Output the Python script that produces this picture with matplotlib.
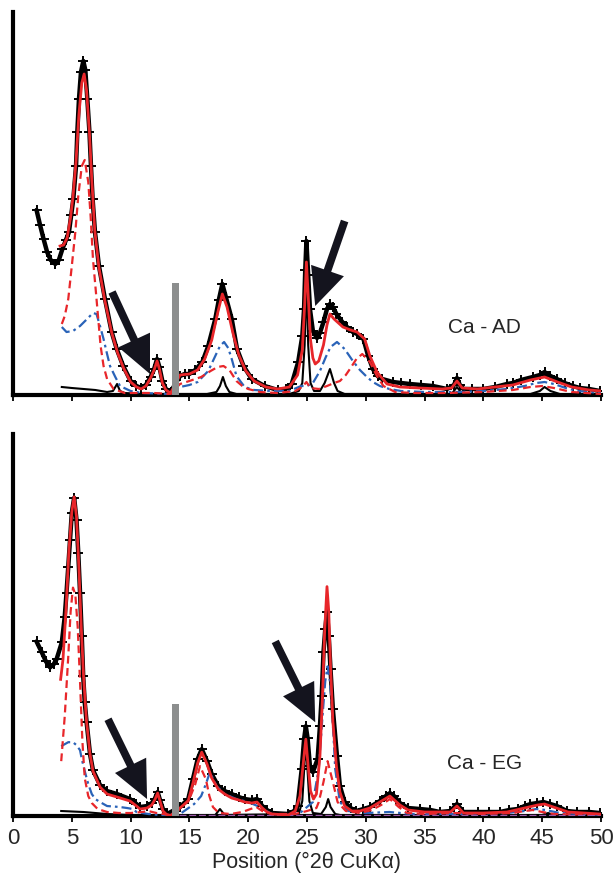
import matplotlib
matplotlib.use("Agg")
import matplotlib.pyplot as plt

plt.rcParams['font.family'] = ['Liberation Sans', 'DejaVu Sans']

# ---------------- Ca - AD (air dried) ----------------
ad_obs_x = [2.0, 2.3, 2.6, 2.9, 3.2, 3.6, 3.9, 4.2, 4.5, 4.76, 4.95, 5.13, 5.36, 5.47, 5.61, 5.78,
            5.98, 6.15, 6.32, 6.5, 6.63, 6.77, 6.97, 7.31, 7.82, 8.39, 8.82, 9.37, 10.0, 10.5, 10.9,
            11.3, 11.7, 12.0, 12.25, 12.45, 12.7, 13.0, 13.4,
            14.2, 14.6, 15.0, 15.5, 16.1, 16.6, 17.2, 17.5, 17.8, 18.1, 18.6, 19.05, 19.6, 20.3, 21.4,
            22.5, 23.2, 23.7, 24.25, 24.6, 24.75, 24.85, 24.95, 25.1, 25.25, 25.5, 25.85, 26.1, 26.4,
            26.7, 26.95, 27.2, 27.5, 28.0, 28.4, 28.9, 29.25, 29.8, 30.2, 30.6, 31.0, 31.4, 32.3, 33.0,
            33.75, 34.7, 35.7, 36.9, 37.5, 37.75, 38.0, 38.3, 39.0, 40.0, 41.0, 42.0, 42.5, 43.2, 44.2,
            44.8, 45.2, 45.7, 46.25, 46.9, 47.6, 48.2, 49.0, 49.9]
ad_obs_y = [185, 170, 156, 143, 135, 131, 135, 146, 155, 163, 180, 196, 229, 263, 296, 323,
            334, 325, 296, 263, 229, 196, 163, 129, 96, 63, 46, 29, 14, 9, 7,
            10, 18, 26, 36, 28, 14, 6, 3,
            19, 21, 21, 25, 33, 49, 76, 95, 111, 98, 76, 46, 29, 16, 9,
            5, 6, 11, 33, 59, 86, 125, 154, 120, 86, 64, 57, 62, 73,
            86, 91, 88, 81, 73, 68, 63, 61, 56, 39, 26, 19, 16, 13, 12,
            11, 10, 9, 6, 10, 17, 10, 6, 6, 6, 8, 11, 12, 15, 18,
            20, 23, 19, 16, 12, 9, 7, 6, 4]

ad_fit_x = [4.0, 4.3, 4.6, 4.9, 5.1, 5.35, 5.6, 5.85, 6.05, 6.25, 6.5, 6.7, 6.95, 7.3, 7.8, 8.4,
            8.9, 9.4, 10.0, 10.5, 10.9, 11.3, 11.7, 12.0, 12.25, 12.45, 12.7, 13.0, 13.4,
            14.2, 15.0, 15.7, 16.3, 16.9, 17.4, 17.8, 18.2, 18.7, 19.2, 19.8, 20.5, 21.5, 22.5, 23.5,
            24.2, 24.6, 24.8, 24.95, 25.1, 25.3, 25.5, 25.7, 26.0, 26.4, 26.7, 26.95, 27.3, 28.05,
            28.7, 29.25, 29.9, 30.35, 30.95, 31.8, 32.9, 34.5, 36.5, 37.3, 37.75, 38.2, 39.5, 41.0,
            42.5, 44.0, 45.2, 46.3, 47.5, 49.0, 50.0]
ad_fit_y = [149, 150, 157, 178, 198, 232, 280, 312, 321, 305, 262, 215, 165, 128, 95, 62,
            42, 27, 13, 8, 6, 9, 17, 25, 34, 26, 12, 5, 2,
            20, 21, 25, 36, 55, 82, 101, 88, 62, 40, 24, 14, 8, 6, 8,
            20, 45, 90, 133, 100, 55, 37, 31, 34, 50, 70, 81, 76, 68,
            65, 63, 56, 39, 23, 11, 8, 7, 6, 7, 14, 7, 6, 8,
            10, 15, 18, 13, 8, 5, 4]

ad_p1_x = [4.15, 4.4, 4.7, 5.0, 5.3, 5.55, 5.85, 6.1, 6.4, 6.6, 6.8, 7.05, 7.25, 7.45, 7.7, 8.0,
           8.55, 9.5, 11.0, 12.0, 13.4,
           14.2, 15.0, 16.0, 16.8, 17.4, 17.9, 18.4, 19.0, 19.5, 20.0, 21.0, 22.5, 24.0, 24.6, 24.95,
           25.3, 26.0, 26.7, 27.3, 27.8, 28.3, 28.65, 29.2, 29.7, 30.35, 30.95, 31.5, 32.5, 34.0,
           37.0, 40.0, 42.5, 44.0, 45.0, 46.0, 47.5, 50.0]
ad_p1_y = [71, 79, 96, 129, 163, 199, 229, 235, 213, 179, 136, 103, 76, 49, 29, 16,
           6, 2, 2, 2, 1,
           11, 14, 18, 24, 28, 29, 25, 14, 9, 6, 3, 2, 4, 8, 13,
           7, 6, 9, 12, 14, 20, 26, 36, 41, 33, 19, 9, 3, 2,
           2, 3, 5, 8, 9, 7, 3, 1]

ad_p2_x = [4.15, 4.55, 5.1, 5.7, 6.3, 6.8, 7.1, 7.4, 7.7, 8.0, 8.25, 8.7, 9.1, 10.0, 11.0, 13.4,
           14.2, 15.0, 15.7, 16.6, 17.2, 17.6, 17.95, 18.3, 18.6, 19.0, 19.7, 20.5, 22.0, 23.5, 24.5,
           25.0, 25.5, 26.1, 26.6, 27.0, 27.55, 28.2, 28.9, 29.5, 30.1, 30.6, 31.2, 32.0, 33.0, 35.0,
           38.0, 40.0, 42.0, 43.5, 44.5, 45.2, 46.0, 47.0, 48.0, 50.0]
ad_p2_y = [68, 63, 64, 69, 76, 82, 81, 69, 56, 41, 29, 18, 9, 4, 2, 1,
           8, 10, 13, 24, 39, 49, 53, 47, 36, 19, 8, 5, 4, 4, 9,
           9, 12, 24, 38, 48, 53, 46, 34, 25, 18, 13, 9, 6, 4, 3,
           3, 4, 6, 9, 12, 13, 11, 7, 4, 2]

ad_p3_x = [4.15, 5.0, 6.0, 7.0, 8.0, 8.5, 8.85, 9.1, 9.5, 11.0, 13.4,
           14.2, 16.5, 17.3, 17.6, 17.85, 18.1, 18.4, 19.0, 23.5, 24.3, 24.6, 24.8, 24.95, 25.1,
           25.3, 25.6, 26.1, 26.5, 26.95, 27.3, 27.6, 28.2, 37.3, 37.75, 38.2, 44.0, 44.8, 45.2,
           45.7, 46.5, 50.0]
ad_p3_y = [8, 7, 6, 5, 3, 4, 11, 4, 2, 1, 1,
           1, 1, 3, 9, 18, 9, 3, 1, 1, 4, 12, 50, 118, 50,
           12, 4, 4, 12, 26, 12, 4, 1, 1, 8, 1, 1, 4, 8,
           4, 1, 0.5]

# ---------------- Ca - EG (ethylene glycol) ----------------
eg_obs_x = [2.0, 2.45, 2.8, 3.15, 3.45, 3.7, 4.15, 4.4, 4.55, 4.7, 4.85, 5.0, 5.2, 5.4, 5.55, 5.7,
            5.85, 5.97, 6.1, 6.26, 6.55, 6.8, 7.4, 8.0, 8.85, 9.95, 10.5, 10.8, 11.4, 11.8, 12.05,
            12.3, 12.5, 12.75, 13.1,
            14.2, 14.9, 15.3, 15.7, 16.05, 16.5, 16.9, 17.45, 18.0, 18.6, 19.2, 19.7, 20.3, 20.75,
            21.2, 21.6, 22.0, 23.4, 23.9, 24.2, 24.55, 24.75, 24.9, 25.05, 25.25, 25.5, 25.9, 26.1,
            26.25, 26.4, 26.55, 26.7, 26.85, 27.0, 27.2, 27.55, 27.8, 28.2, 28.7, 29.2, 29.8, 30.35,
            31.2, 31.7, 32.05, 32.4, 32.9, 33.6, 34.6, 35.5, 36.3, 37.2, 37.75, 38.3, 39.5, 40.5,
            41.4, 42.2, 42.9, 43.5, 44.0, 44.6, 45.1, 45.7, 46.25, 47.1, 48.0, 49.0, 49.9]
eg_obs_y = [175, 164, 155, 149, 152, 157, 174, 200, 224, 250, 277, 304, 319, 297, 264, 224,
            180, 140, 114, 94, 62, 46, 31, 25, 22, 17, 12, 9, 10, 13, 17,
            24, 16, 7, 2,
            9, 17, 37, 57, 67, 55, 42, 30, 25, 22, 19, 17, 16, 17,
            10, 6, 3, 2, 5, 10, 47, 77, 90, 78, 50, 44, 57, 90,
            120, 164, 187, 205, 180, 147, 107, 60, 30, 14, 8, 5, 7, 9,
            15, 20, 23, 20, 13, 8, 7, 6, 4, 5, 12, 4, 4, 4,
            4, 6, 7, 10, 12, 13, 14, 12, 10, 5, 4, 4, 3]

eg_fit_x = [4.05, 4.25, 4.5, 4.75, 5.0, 5.2, 5.4, 5.6, 5.8, 6.0, 6.25, 6.55, 6.8, 7.4, 8.0, 8.85,
            9.95, 10.5, 10.8, 11.4, 11.8, 12.05, 12.3, 12.5, 12.75, 13.1, 13.4,
            14.2, 14.9, 15.3, 15.7, 16.05, 16.5, 16.9, 17.45, 18.0, 18.6, 19.2, 19.7, 20.3, 20.75,
            21.2, 21.6, 22.0, 23.4, 24.0, 24.4, 24.7, 24.9, 25.1, 25.3, 25.55, 25.8, 26.1, 26.3,
            26.5, 26.7, 26.85, 27.0, 27.2, 27.5, 27.8, 28.2, 28.8, 29.5, 30.35, 31.2, 32.05, 32.9,
            33.6, 35.0, 37.2, 37.75, 38.3, 40.0, 42.0, 43.5, 44.6, 45.2, 46.2, 47.2, 49.9]
eg_fit_y = [137, 157, 205, 265, 305, 320, 300, 250, 190, 140, 95, 62, 45, 29, 22, 19,
            15, 10, 7, 8, 11, 16, 23, 15, 5, 1, 0.5,
            8, 15, 33, 53, 64, 52, 38, 27, 22, 18, 16, 14, 13, 14,
            8, 4, 2, 1, 5, 20, 55, 77, 50, 25, 17, 22, 60, 115,
            185, 230, 205, 150, 95, 50, 24, 10, 5, 5, 8, 14, 20, 11,
            6, 4, 4, 10, 3, 3, 4, 8, 11, 12, 8, 4, 2]

eg_p1_x = [4.1, 4.4, 4.7, 4.9, 5.1, 5.3, 5.5, 5.7, 5.9, 6.1, 6.4, 6.7, 7.2, 8.0, 9.0, 10.0, 11.0,
           11.5, 12.2, 13.4,
           14.2, 15.0, 15.5, 15.9, 16.4, 16.7, 17.0, 17.5, 18.5, 19.5, 20.2, 20.7, 21.2, 22.0, 24.0,
           25.0, 25.8, 26.0, 26.4, 26.75, 27.2, 27.6, 28.3, 29.5, 30.5, 31.3, 32.05, 32.8, 33.5,
           35.0, 37.75, 40.0, 42.5, 43.5, 44.2, 45.0, 46.0, 50.0]
eg_p1_y = [55, 100, 160, 205, 229, 222, 190, 135, 75, 38, 20, 13, 7, 4, 3, 3, 4,
           5, 3, 1,
           7, 17, 32, 50, 37, 20, 9, 3, 2, 4, 7, 9, 5, 2, 2,
           5, 8, 14, 34, 55, 34, 14, 5, 3, 6, 11, 17, 9, 3,
           2, 3, 2, 3, 5, 6, 4, 2, 1]

eg_p2_x = [4.1, 4.7, 5.1, 5.4, 5.7, 5.85, 6.1, 6.4, 6.7, 7.0, 7.4, 8.0, 9.1, 9.7, 10.2, 10.5,
           11.5, 12.5, 13.4,
           14.2, 15.4, 16.0, 16.4, 16.75, 17.3, 18.0, 19.0, 20.0, 21.0, 22.0, 23.5, 24.5, 25.0,
           25.5, 26.0, 26.3, 26.55, 26.75, 26.95, 27.1, 27.4, 27.8, 28.5, 30.0, 32.0, 34.0, 38.0,
           42.0, 43.5, 44.5, 45.3, 46.5, 50.0]
eg_p2_y = [70, 74, 74, 71, 66, 57, 45, 32, 22, 17, 14, 10, 9, 8, 7, 4,
           2, 1, 1,
           2, 12, 20, 32, 44, 30, 22, 17, 14, 9, 2, 1, 4, 9,
           14, 47, 97, 135, 150, 135, 114, 47, 14, 5, 3, 4, 2, 2,
           3, 5, 7, 6, 3, 1]

eg_p3_x = [4.1, 6.0, 8.0, 10.0, 13.4,
           14.2, 17.2, 17.6, 18.0, 24.3, 24.6, 24.8, 24.9, 25.0, 25.2, 25.5, 26.2, 26.6, 26.8,
           27.0, 27.4, 28.0, 45.0, 45.5, 46.0, 50.0]
eg_p3_y = [5, 4, 2, 1, 0.5,
           0.5, 1, 7, 1, 2, 15, 55, 67, 55, 15, 3, 2, 9, 17,
           9, 2, 0.5, 1, 3, 1, 0.5]

eg_base_x = [14.1, 50.0]
eg_base_y = [0.8, 0.8]

# scale-break marker between the low-angle and magnified sections
break_pos = 13.8
break_height = 112

panel_labels = ["Ca - AD", "Ca - EG"]
xticks = [0, 5, 10, 15, 20, 25, 30, 35, 40, 45, 50]

# arrows: (tail x, tail y, head x, head y)
ad_arrows = [(8.42, 103, 11.65, 21), (28.2, 174, 25.7, 89)]
eg_arrows = [(8.08, 97, 11.4, 17), (22.3, 175, 25.7, 94)]

RED = '#e8262a'
BLUE = '#2a63b8'
TEXT = '#262626'


def draw_panel(ax, obs, fit, p1, p2, p3, arrows, label, label_pos, base=None):
    ax.plot(obs[0], obs[1], color='black', lw=3.2, zorder=2,
            marker='+', ms=7, mew=1.4, solid_joinstyle='round', solid_capstyle='round')
    ax.plot(p3[0], p3[1], color='black', lw=1.5, zorder=3)
    ax.plot(p2[0], p2[1], color=BLUE, lw=1.6, zorder=3, dashes=(4.5, 1.8, 1.2, 1.8))
    ax.plot(p1[0], p1[1], color=RED, lw=1.6, zorder=3, dashes=(3.5, 2.0))
    if base is not None:
        ax.plot(base[0], base[1], color='#9b59a8', lw=1.0, zorder=3, dashes=(5, 2))
    ax.plot(fit[0], fit[1], color=RED, lw=2.0, zorder=4)
    ax.bar([break_pos], [break_height], width=0.55, color='#8c8e8e', zorder=5)
    for tx, ty, hx, hy in arrows:
        ax.annotate('', xy=(hx, hy), xytext=(tx, ty), zorder=6,
                    arrowprops=dict(arrowstyle='simple,head_length=1.35,head_width=1.25,tail_width=0.28',
                                    mutation_scale=20, color='#14141e', shrinkA=0, shrinkB=0, lw=0))
    ax.text(label_pos[0], label_pos[1], label, fontsize=15, color=TEXT,
            ha='center', va='center')
    ax.set_xlim(0, 50)
    ax.set_ylim(0, 383)
    for s in ('top', 'right'):
        ax.spines[s].set_visible(False)
    for s in ('left', 'bottom'):
        ax.spines[s].set_linewidth(3)
        ax.spines[s].set_color('black')
    ax.set_yticks([])
    ax.set_xticks(xticks)
    ax.tick_params(axis='x', direction='out', length=4, width=1.3, color='black',
                   labelsize=16, labelcolor=TEXT, pad=4)


fig = plt.figure(figsize=(6.14, 8.78), dpi=100)
ax_top = fig.add_axes([13 / 614, 482 / 878, 588 / 614, 383 / 878])
ax_bot = fig.add_axes([13 / 614, 61 / 878, 588 / 614, 382 / 878])

draw_panel(ax_top, (ad_obs_x, ad_obs_y), (ad_fit_x, ad_fit_y), (ad_p1_x, ad_p1_y),
           (ad_p2_x, ad_p2_y), (ad_p3_x, ad_p3_y), ad_arrows, panel_labels[0], (40.1, 68))
ax_top.tick_params(axis='x', labelbottom=False)

draw_panel(ax_bot, (eg_obs_x, eg_obs_y), (eg_fit_x, eg_fit_y), (eg_p1_x, eg_p1_y),
           (eg_p2_x, eg_p2_y), (eg_p3_x, eg_p3_y), eg_arrows, panel_labels[1], (40.1, 54),
           base=(eg_base_x, eg_base_y))
ax_bot.set_xlabel('Position (°2θ CuKα)', fontsize=15.5, color=TEXT, labelpad=2)

fig.savefig('out.png', dpi=100)
